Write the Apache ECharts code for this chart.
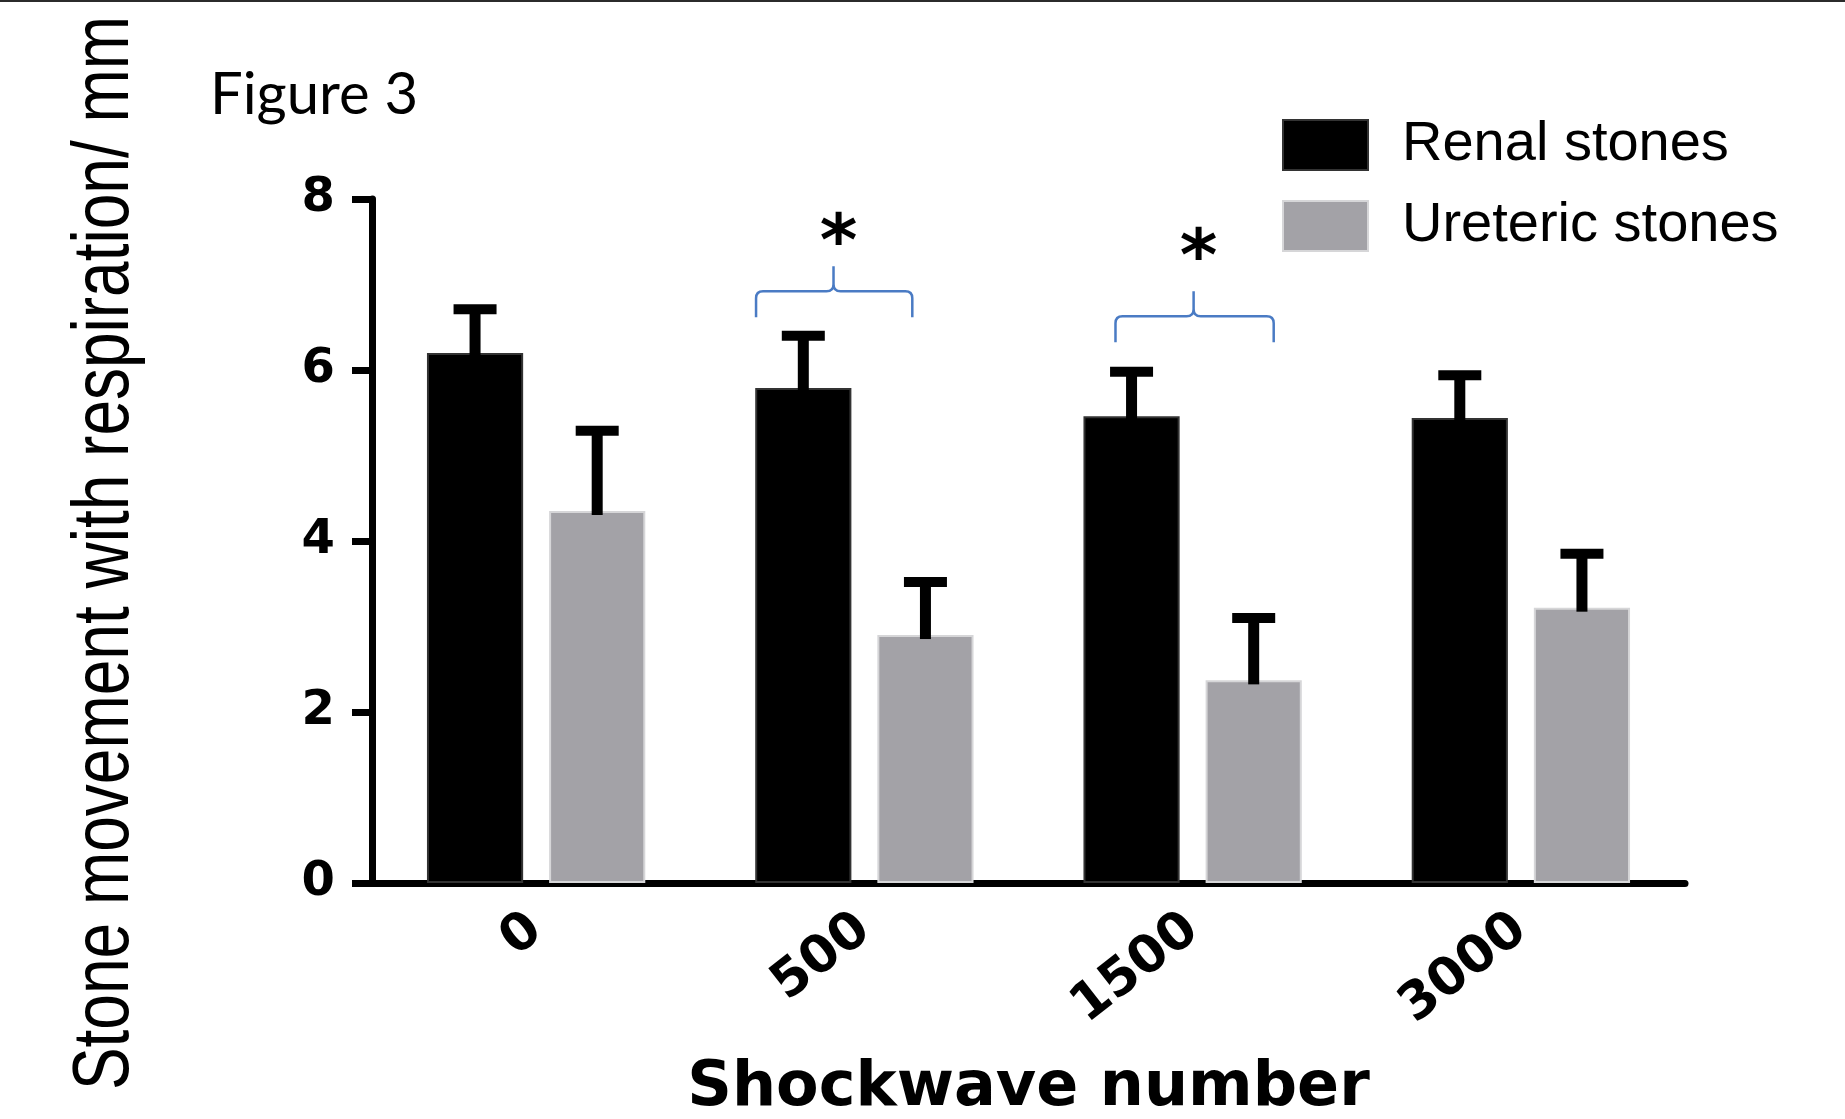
<!DOCTYPE html>
<html><head><meta charset="utf-8">
<script src="https://cdn.jsdelivr.net/npm/echarts@6/dist/echarts.min.js"></script>
<style>html,body{margin:0;padding:0;background:#fff}#c{width:1845px;height:1119px}</style>
</head><body><div id="c"></div>
<script>
// ---- data ----
const categories = ['0', '500', '1500', '3000'];
const renalMean = [6.20, 5.79, 5.46, 5.44];
const renalErrTop = [6.71, 6.40, 5.98, 5.94];
const uretericMean = [4.35, 2.90, 2.37, 3.22];
const uretericErrTop = [5.29, 3.52, 3.10, 3.85];
const yTickMin = 0, yTickMax = 8, yTickStep = 2;
const sigCategories = ['500', '1500'];
const sigBraceLevel = [6.92, 6.63];
const sigStarLevel = [7.61, 7.44];
const sigLabel = ['*', '*'];

// ---- styling/layout helpers ----
const braceSpan = [[-0.33, 0.146, -0.094], [-0.235, 0.247, 0.003]];
const BAR_FRAC = 0.293, GAP_FRAC = 0.27;

function errItem(sign) {
  return function (params, api) {
    const i = api.value(0);
    const base = api.coord([i, api.value(1)]);
    const top = api.coord([i, api.value(2)]);
    const band = api.size([1, 0])[0];
    const off = sign * band * (BAR_FRAC / 2 + BAR_FRAC * GAP_FRAC / 2);
    const x = base[0] + off;
    return {
      type: 'group', children: [
        { type: 'rect', shape: { x: x - 5.5, y: top[1], width: 11, height: base[1] - top[1] + 4 }, style: { fill: '#000' } },
        { type: 'rect', shape: { x: x - 21.5, y: top[1] - 5, width: 43, height: 10 }, style: { fill: '#000' } }
      ]
    };
  };
}

function braceItem(params, api) {
  const k = params.dataIndex;
  const i = api.value(0);
  const band = api.size([1, 0])[0];
  const p = api.coord([i, api.value(1)]);
  const s = braceSpan[k];
  const x1 = p[0] + s[0] * band, x2 = p[0] + s[1] * band, xm = p[0] + s[2] * band;
  const yl = p[1], r = 7, tip = 25, drop = 26;
  const d = `M${x1},${yl + drop} L${x1},${yl + r} Q${x1},${yl} ${x1 + r},${yl} L${xm - r},${yl} Q${xm},${yl} ${xm},${yl - r} L${xm},${yl - tip} M${xm},${yl - r} Q${xm},${yl} ${xm + r},${yl} L${x2 - r},${yl} Q${x2},${yl} ${x2},${yl + r} L${x2},${yl + drop}`;
  const st = api.coord([i, api.value(2)]);
  return {
    type: 'group', children: [
      { type: 'path', shape: { pathData: d }, style: { fill: null, stroke: '#4a7bc4', lineWidth: 2.5 } },
      { type: 'text', x: xm + 5, y: st[1] + 14, style: { text: sigLabel[k], font: 'bold 72px "DejaVu Sans"', align: 'center', verticalAlign: 'middle', fill: '#000' } }
    ]
  };
}

const barW = (BAR_FRAC * 100) + '%';
const chart = echarts.init(document.getElementById('c'), null, { renderer: 'canvas' });
chart.setOption({
  animation: false,
  backgroundColor: '#fff',
  grid: { left: 372, right: 160, top: 199, bottom: 236, containLabel: false, outerBoundsMode: 'none' },
  legend: {
    orient: 'vertical', left: 1277, top: 112,
    itemWidth: 85, itemHeight: 50, itemGap: 25, icon: 'rect',
    selectedMode: false,
    textStyle: { fontFamily: '"Liberation Sans", Arial, sans-serif', fontSize: 56, color: '#000', padding: [0, 0, 0, 29], lineHeight: 50 },
    data: ['Renal stones', 'Ureteric stones']
  },
  xAxis: {
    type: 'category', data: categories,
    name: 'Shockwave number', nameLocation: 'middle', nameGap: 175,
    nameTextStyle: { fontFamily: '"DejaVu Sans"', fontWeight: 'bold', fontSize: 62, color: '#000' },
    axisLine: { lineStyle: { color: '#000', width: 7 } },
    axisTick: { alignWithLabel: true, length: 21, lineStyle: { color: '#000', width: 7 } },
    axisLabel: { rotate: 38, margin: 41, fontFamily: '"DejaVu Sans"', fontWeight: 'bold', fontSize: 52, color: '#000' },
    splitLine: { show: false }
  },
  yAxis: {
    type: 'value', min: yTickMin, max: yTickMax, interval: yTickStep,
    axisLine: { show: true, lineStyle: { color: '#000', width: 7 } },
    axisTick: { show: true, length: 20, lineStyle: { color: '#000', width: 7 } },
    axisLabel: { margin: 37, fontFamily: '"DejaVu Sans"', fontWeight: 'bold', fontSize: 48, color: '#000' },
    splitLine: { show: false }
  },
  series: [
    { name: 'Renal stones', type: 'bar', data: renalMean, barWidth: barW, barGap: (GAP_FRAC * 100) + '%',
      itemStyle: { color: '#000', borderColor: '#333', borderWidth: 2 } },
    { name: 'Ureteric stones', type: 'bar', data: uretericMean, barWidth: barW, barGap: (GAP_FRAC * 100) + '%',
      itemStyle: { color: '#a3a2a7', borderColor: '#d6d6d8', borderWidth: 2 } },
    { type: 'custom', renderItem: errItem(-1), encode: { x: 0, y: 2 }, z: 3,
      data: categories.map((c, i) => [i, renalMean[i], renalErrTop[i]]) },
    { type: 'custom', renderItem: errItem(1), encode: { x: 0, y: 2 }, z: 3,
      data: categories.map((c, i) => [i, uretericMean[i], uretericErrTop[i]]) },
    { type: 'custom', renderItem: braceItem, encode: { x: 0, y: 2 }, z: 4,
      data: sigCategories.map((c, k) => [categories.indexOf(c), sigBraceLevel[k], sigStarLevel[k]]) }
  ],
  graphic: [
    { type: 'rect', shape: { x: 0, y: 0, width: 1845, height: 2 }, style: { fill: '#2b2b2b' } },
    { type: 'text', x: 210, y: 95, style: { text: 'Figure 3', font: '58px Lato, "Liberation Sans", sans-serif', fill: '#000', verticalAlign: 'middle', align: 'left' } },
    { type: 'text', x: 106, y: 553, rotation: Math.PI / 2, scaleX: 0.8,
      style: { text: 'Stone movement with respiration/ mm', font: '80px "Liberation Sans", Arial, sans-serif', fill: '#000', align: 'center', verticalAlign: 'middle' } }
  ]
});
</script>
</body></html>
